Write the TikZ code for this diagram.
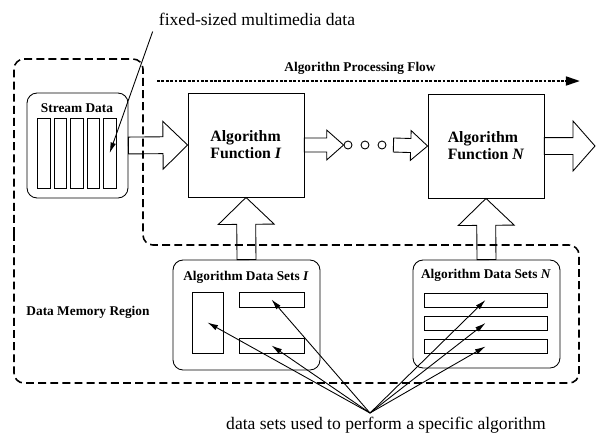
\documentclass[tikz,border=0pt]{standalone}
\usepackage{fontspec}
\setmainfont{Liberation Serif}
\usetikzlibrary{calc,arrows.meta}

\tikzset{
  fat shaft/.store in=\fatsw, fat head/.store in=\fathw, fat tip/.store in=\fathl,
  fat shaft=4.8pt, fat head=13.6pt, fat tip=14pt,
  fat/.style={draw, line join=miter, to path={
    let \p1=($(\tikztotarget)-(\tikztostart)$), \n1={atan2(\y1,\x1)},
        \n2={veclen(\x1,\y1)-\fathl} in
    ($(\tikztostart)+(\n1+90:\fatsw)$) -- ($(\tikztostart)+(\n1:\n2)+(\n1+90:\fatsw)$)
    -- ($(\tikztostart)+(\n1:\n2)+(\n1+90:\fathw)$) -- (\tikztotarget)
    -- ($(\tikztostart)+(\n1:\n2)+(\n1-90:\fathw)$) -- ($(\tikztostart)+(\n1:\n2)+(\n1-90:\fatsw)$)
    -- ($(\tikztostart)+(\n1-90:\fatsw)$) -- cycle}},
  func/.style={draw, minimum width=2.32cm, minimum height=2.08cm, align=left,
    font=\fontsize{9}{9.6}\selectfont\bfseries},
  holder/.style={draw, rounded corners=0.2cm, minimum width=2.94cm},
  title/.style={font=\fontsize{7.6}{9}\selectfont\bfseries, inner sep=0pt},
  slot/.style={draw, inner sep=0pt},
  dot/.style={draw, circle, minimum size=0.16cm, inner sep=0pt},
  ptr/.style={-{Latex[length=6pt,width=3.2pt]}},
  note/.style={font=\fontsize{10}{12}\selectfont}
}

\begin{document}
\begin{tikzpicture}[x=0.02cm, y=-0.02cm, line width=0.5pt]
  \useasboundingbox (0,0) rectangle (598,434);

  % data memory region
  \draw[line width=0.9pt, dash pattern=on 4.5pt off 2.4pt, rounded corners=0.2cm]
    (14,245) -- (14,59) -- (143,59) -- (143,245) -- (579,245) -- (579,383) -- (14,383) -- cycle;
  \node[title] (region) at (88,312) {Data Memory Region};

  % stream data
  \node[holder, minimum width=2.02cm, minimum height=2.1cm] (stream) at (77.5,145.5) {};
  \node[title] (streamT) at (77,108) {Stream Data};
  \foreach \i in {0,...,4}
    \node[slot, minimum width=0.25cm, minimum height=1.4cm] (bar\i) at (43.9+16.45*\i,153) {};
  \node[note] (mm) at (257,19) {fixed-sized multimedia data};
  \draw[ptr] (mm.south west) -- (bar4.center);

  % processing flow
  \coordinate (flowA) at (157,81);
  \coordinate (flowB) at (580,81);
  \draw[line width=1.3pt, dash pattern=on 1.6pt off 0.9pt, -{Triangle[length=8pt,width=5pt]}] (flowA) -- (flowB);
  \node[title] (flowT) at (360,68) {Algorithn Processing Flow};

  % algorithm functions
  \node[func] (f1) at (246,145) {Algorithm\\Function \textit{I}};
  \node[func] (fN) at (486,146) {Algorithm\\Function \textit{N}};
  \node[dot] (d1) at (348,145) {};
  \node[dot] (d2) at (365,145) {};
  \node[dot] (d3) at (382,145) {};
  \coordinate (out) at (595,146);

  \draw (stream.east) to[fat] (f1.west);
  \draw (f1.east) to[fat, fat shaft=4pt, fat head=8.5pt, fat tip=9.6pt] (d1.west);
  \draw ([xshift=4pt]d3.east) to[fat, fat shaft=4pt, fat head=8.5pt, fat tip=9.6pt] (fN.west);
  \draw (fN.east) to[fat, fat head=14.2pt, fat tip=12.5pt] (out);

  % algorithm data sets
  \node[holder, minimum height=2.2cm] (ds1) at (246.5,315) {};
  \node[title] (ds1T) at (246,277) {Algorithm Data Sets \textit{I}};
  \node[slot, minimum width=0.62cm, minimum height=1.22cm] (tall) at (207.5,322.5) {};
  \node[slot, minimum width=1.3cm, minimum height=0.3cm] (top) at (271.5,299.5) {};
  \node[slot, minimum width=1.3cm, minimum height=0.3cm] (low) at (271.5,345.5) {};

  \node[holder, minimum height=2.16cm] (dsN) at (486.5,314) {};
  \node[title] (dsNT) at (486,275) {Algorithm Data Sets \textit{N}};
  \foreach \y [count=\k] in {300,323,346.5}
    \node[slot, minimum width=2.46cm, minimum height=0.28cm] (row\k) at (485.5,\y) {};

  \draw (ds1.north) to[fat, fat shaft=5.4pt, fat head=15.9pt, fat tip=15.3pt] (f1.south);
  \draw (dsN.north) to[fat, fat shaft=5.4pt, fat head=15.9pt, fat tip=15.3pt] (fN.south);

  % pointers to the data sets
  \node[note] (used) at (386,425) {data sets used to perform a specific algorithm};
  \coordinate (hub) at (370,413);
  \foreach \t in {tall,top,low,row1,row2,row3}
    \draw[ptr] (hub) -- (\t.center);
\end{tikzpicture}
\end{document}
